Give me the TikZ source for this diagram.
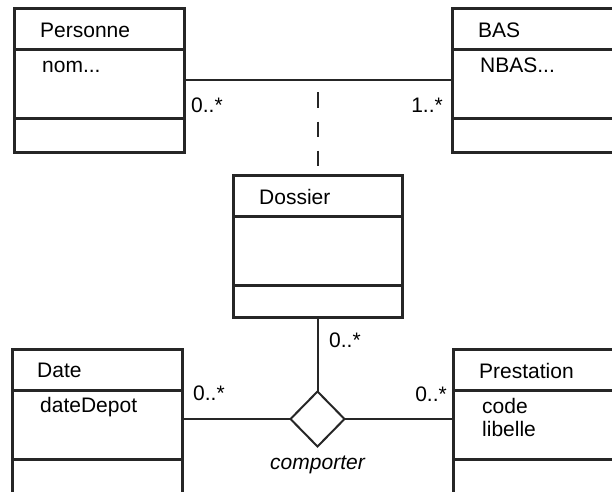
\documentclass[tikz,border=0pt]{standalone}
\usepackage{fontspec}
\setmainfont{Liberation Sans}
\usetikzlibrary{shapes.geometric}

\begin{document}
\begin{tikzpicture}[x=1pt,y=1pt, every node/.style={font=\fontsize{21}{23}\selectfont}, cls/.style={draw=black!85,line width=3pt,minimum width=170pt,minimum height=144pt,inner sep=0pt,outer sep=0pt}, sep/.style={draw=black!85,line width=3pt}, txt/.style={anchor=base west,inner sep=0pt,align=left}, mult/.style={inner sep=0pt}, assoc/.style={draw=black!85,line width=2pt}]
\useasboundingbox (0,0) rectangle (612,491);
\clip (0,0) rectangle (612,491);
% classes
\node[cls] (pers) at (99,410.5) {};
\node[cls] (bas) at (537,410.5) {};
\node[cls,minimum width=169pt,minimum height=142pt] (dos) at (317.5,245) {};
\node[cls] (date) at (97,70) {};
\node[cls] (prest) at (538,70) {};
\foreach \c in {pers,bas,dos,date,prest}
  \draw[sep] ([yshift=-41]\c.north west) -- ([yshift=-41]\c.north east)
             ([yshift=-110]\c.north west) -- ([yshift=-110]\c.north east);
% names and attributes
\node[txt] (pers-t) at ([shift={(26,-29)}]pers.north west) {Personne};
\node[txt] (pers-a) at ([shift={(28,-64)}]pers.north west) {nom...};
\node[txt] (bas-t) at ([shift={(26,-29)}]bas.north west) {BAS};
\node[txt] (bas-a) at ([shift={(28,-64)}]bas.north west) {NBAS...};
\node[txt] (dos-t) at ([shift={(26,-29)}]dos.north west) {Dossier};
\node[txt] (date-t) at ([shift={(25,-28)}]date.north west) {Date};
\node[txt] (date-a) at ([shift={(28,-63)}]date.north west) {dateDepot};
\node[txt] (prest-t) at ([shift={(26,-29)}]prest.north west) {Prestation};
\node[txt] (prest-a) at ([shift={(29,-87)}]prest.north west) {code\\libelle};
% associations
\draw[assoc] (pers) -- coordinate (mid) (bas);
\draw[assoc,dash pattern=on 15pt off 14pt,dash phase=17pt] (mid) -- (mid |- dos.north);
\node[draw=black!85,line width=2pt,diamond,minimum width=54pt,minimum height=55pt,inner sep=0pt,outer sep=0pt] (comp) at (317.5,72) {};
\node[anchor=base] (comp-t) at ([yshift=-23]comp.south) {\itshape comporter};
\draw[assoc] (dos) -- (comp);
\draw[assoc] (comp) -- (comp -| date.east);
\draw[assoc] (comp) -- (comp -| prest.west);
% multiplicities
\node[mult,anchor=base west] (m-pers) at ([shift={(7,-32)}]pers.east) {0..*};
\node[mult,anchor=base east] (m-bas) at ([shift={(-9,-32)}]bas.west) {1..*};
\node[mult,anchor=base west] (m-dos) at ([shift={(11.5,-30)}]dos.south) {0..*};
\node[mult,anchor=base west] (m-date) at ([shift={(11,21)}]date.east) {0..*};
\node[mult,anchor=base east] (m-prest) at ([shift={(-6,20)}]prest.west) {0..*};
\end{tikzpicture}
\end{document}
